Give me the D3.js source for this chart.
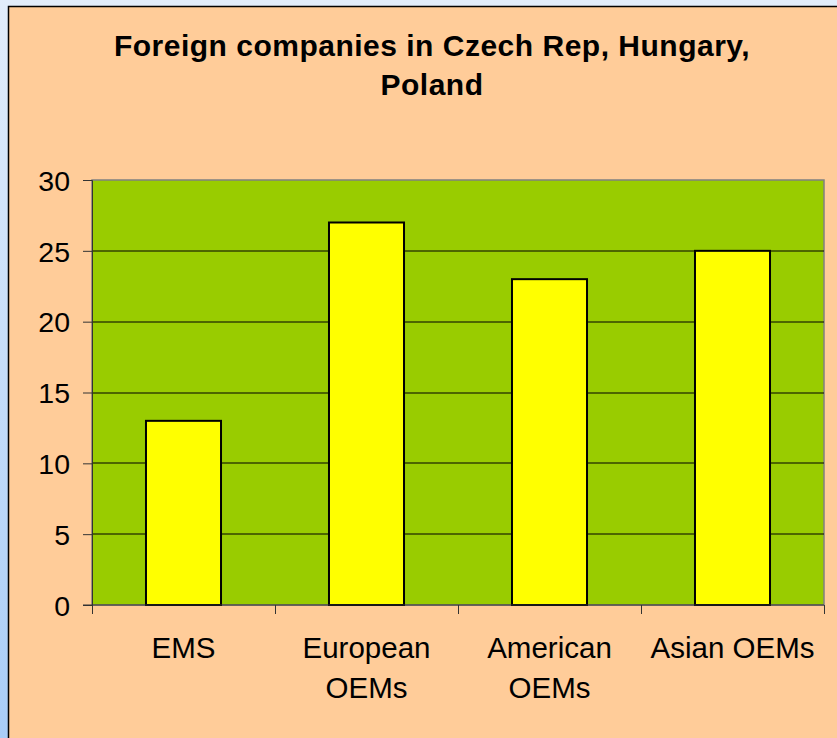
<!DOCTYPE html>
<html>
<head>
<meta charset="utf-8">
<script src="https://cdn.jsdelivr.net/npm/d3@7"></script>
<style>
  html, body { margin: 0; padding: 0; }
  body { width: 837px; height: 738px; overflow: hidden; }
  text { font-family: "Liberation Sans", Arial, sans-serif; fill: #000; }
</style>
</head>
<body>
<script>
	var w = 837;
	var h = 738;

	var categories = [["EMS"], ["European", "OEMs"], ["American", "OEMs"], ["Asian OEMs"]];
	var values = [13, 27, 23, 25];
	var yTicks = [0, 5, 10, 15, 20, 25, 30];
	var titleLines = ["Foreign companies in Czech Rep, Hungary,", "Poland"];

	// plot area
	var plotL = 92, plotR = 824, plotT = 180, plotB = 605;

	var xScale = d3.scaleBand()
					.domain(d3.range(values.length))
					.range([plotL, plotR])
					.paddingInner(0)
					.paddingOuter(0);

	var yScale = d3.scaleLinear()
					.domain([0, 30])
					.range([plotB, plotT]);

	var barW = xScale.bandwidth() * 0.41;

	var svg = d3.select("body")
				.append("svg")
				.attr("width", w)
				.attr("height", h);

	// slide background strip
	var defs = svg.append("defs");
	var grad = defs.append("linearGradient")
				.attr("id", "bg")
				.attr("x1", 0).attr("y1", 0).attr("x2", 0).attr("y2", 1);
	grad.append("stop").attr("offset", "0%").attr("stop-color", "#e2edfb");
	grad.append("stop").attr("offset", "100%").attr("stop-color", "#a9cdf7");

	svg.append("rect")
		.attr("width", w).attr("height", h)
		.attr("fill", "url(#bg)");

	// chart area
	svg.append("rect")
		.attr("x", 8.5).attr("y", 6.5)
		.attr("width", w).attr("height", h)
		.attr("fill", "#ffcc99")
		.attr("stroke", "#000")
		.attr("stroke-width", 1.5);

	// plot area
	svg.append("rect")
		.attr("x", plotL).attr("y", plotT)
		.attr("width", plotR - plotL).attr("height", plotB - plotT)
		.attr("fill", "#99cc00")
		.attr("stroke", "#808080")
		.attr("stroke-width", 1.5);

	// gridlines
	svg.selectAll("line.grid")
		.data(yTicks.filter(function(d){ return d > 0 && d < 30; }))
		.enter()
		.append("line")
		.attr("class", "grid")
		.attr("x1", plotL).attr("x2", plotR)
		.attr("y1", function(d){ return Math.round(yScale(d)); })
		.attr("y2", function(d){ return Math.round(yScale(d)); })
		.attr("stroke", "#000")
		.attr("stroke-width", 1);

	// bars
	svg.selectAll("rect.bar")
		.data(values)
		.enter()
		.append("rect")
		.attr("class", "bar")
		.attr("x", function(d, i){ return xScale(i) + (xScale.bandwidth() - barW) / 2; })
		.attr("y", function(d){ return yScale(d); })
		.attr("width", barW)
		.attr("height", function(d){ return plotB - yScale(d); })
		.attr("fill", "#ffff00")
		.attr("stroke", "#000")
		.attr("stroke-width", 2);

	// y axis
	var yAxis = d3.axisLeft(yScale)
					.tickValues(yTicks)
					.tickSize(9)
					.tickPadding(13)
					.tickFormat(d3.format("d"));

	var gy = svg.append("g")
				.attr("transform", "translate(" + plotL + ",0)")
				.call(yAxis);
	gy.select(".domain").attr("stroke", "#333");
	gy.selectAll(".tick line").attr("stroke", "#333");
	gy.selectAll(".tick text")
		.attr("font-size", "28.5px")
		.attr("font-family", "Liberation Sans, Arial, sans-serif")
		.attr("fill", "#000")
		.attr("dy", "0.36em");

	// x axis
	var boundaries = d3.range(values.length + 1).map(function(i){
		return i < values.length ? xScale(i) : plotR;
	});
	svg.append("line")
		.attr("x1", plotL - 9).attr("x2", plotR)
		.attr("y1", plotB).attr("y2", plotB)
		.attr("stroke", "#333");
	svg.selectAll("line.xtick")
		.data(boundaries)
		.enter()
		.append("line")
		.attr("class", "xtick")
		.attr("x1", function(d){ return Math.round(d) + 0.5; })
		.attr("x2", function(d){ return Math.round(d) + 0.5; })
		.attr("y1", plotB).attr("y2", plotB + 9)
		.attr("stroke", "#333");

	// category labels
	svg.selectAll("text.cat")
		.data(categories)
		.enter()
		.append("text")
		.attr("class", "cat")
		.attr("text-anchor", "middle")
		.attr("font-size", "29.5px")
		.attr("x", function(d, i){ return xScale(i) + xScale.bandwidth() / 2; })
		.attr("y", 658)
		.selectAll("tspan")
		.data(function(d){ return d; })
		.enter()
		.append("tspan")
		.attr("x", function(){ return d3.select(this.parentNode).attr("x"); })
		.attr("dy", function(d, i){ return i === 0 ? 0 : 40; })
		.text(function(d){ return d; });

	// title
	svg.selectAll("text.title")
		.data(titleLines)
		.enter()
		.append("text")
		.attr("class", "title")
		.attr("text-anchor", "middle")
		.attr("font-weight", "bold")
		.attr("font-size", "30px")
		.attr("letter-spacing", "0.5px")
		.attr("x", 432)
		.attr("y", function(d, i){ return 56 + i * 39; })
		.text(function(d){ return d; });
</script>
</body>
</html>
